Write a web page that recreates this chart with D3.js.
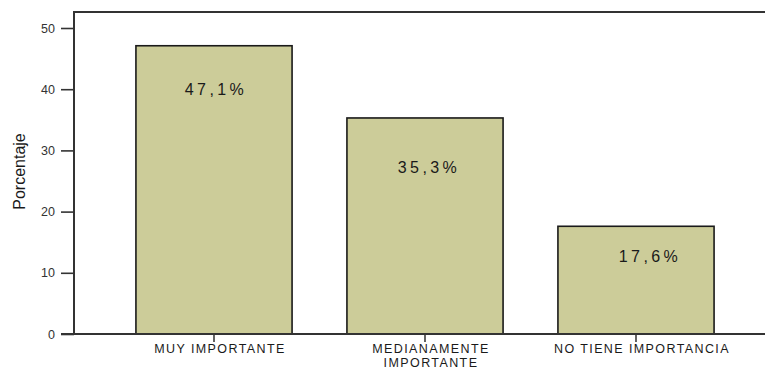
<!DOCTYPE html>
<html>
<head>
<meta charset="utf-8">
<script src="https://cdn.jsdelivr.net/npm/d3@7"></script>
<style>
  html, body { margin: 0; padding: 0; background: #fff; }
  svg { display: block; }
</style>
</head>
<body>
<svg id="chart" width="765" height="369"></svg>
<script>
// Importancia percibida: porcentaje de respuestas por categoría
const categories = ["MUY IMPORTANTE", "MEDIANAMENTE IMPORTANTE", "NO TIENE IMPORTANCIA"];
const categoryLines = [["MUY IMPORTANTE"], ["MEDIANAMENTE", "IMPORTANTE"], ["NO TIENE IMPORTANCIA"]];
const percentages = [47.1, 35.3, 17.6];
const yTicks = [0, 10, 20, 30, 40, 50];
const yTitle = "Porcentaje";

// layout of the value labels inside each bar (pixels below the bar top, horizontal nudge)
const labelDrop = [44, 49, 30];
const labelNudge = [0, 2, 12];

const svg = d3.select("#chart");
const W = 765;
const plotLeft = 74, plotTop = 12, plotBottom = 334;

const y = d3.scaleLinear().domain([0, 50]).range([plotBottom, 28]);
const x = d3.scaleBand()
  .domain(categories)
  .range([108.5, 741.5])
  .paddingInner(0.26)
  .paddingOuter(0.13);

const fmt = v => d3.format(".1f")(v).replace(".", ",") + "%";

// bars
svg.append("g").selectAll("rect")
  .data(percentages)
  .join("rect")
  .attr("x", (d, i) => x(categories[i]))
  .attr("y", d => y(d))
  .attr("width", x.bandwidth())
  .attr("height", d => plotBottom - y(d))
  .attr("fill", "#cccc99")
  .attr("stroke", "#1a1a1a")
  .attr("stroke-width", 1.6);

// value labels
svg.append("g").selectAll("text")
  .data(percentages)
  .join("text")
  .attr("x", (d, i) => x(categories[i]) + x.bandwidth() / 2 + labelNudge[i] + 2)
  .attr("y", (d, i) => y(d) + labelDrop[i])
  .attr("dy", "0.35em")
  .attr("text-anchor", "middle")
  .attr("font-family", "Liberation Sans, Arial, sans-serif")
  .attr("font-size", 16)
  .attr("letter-spacing", 3.4)
  .attr("fill", "#1a1a1a")
  .text(d => fmt(d));

// frame: top line and left axis
svg.append("line")
  .attr("x1", plotLeft).attr("x2", W)
  .attr("y1", plotTop).attr("y2", plotTop)
  .attr("stroke", "#333").attr("stroke-width", 2);

const yAxis = d3.axisLeft(y).tickValues(yTicks).tickSize(13).tickPadding(6);
const gy = svg.append("g").attr("transform", `translate(${plotLeft},0)`).call(yAxis);
gy.select(".domain").remove();
gy.selectAll(".tick line").attr("stroke", "#333").attr("stroke-width", 1.6);
gy.selectAll(".tick text")
  .attr("font-family", "Liberation Sans, Arial, sans-serif")
  .attr("font-size", 12.5)
  .attr("fill", "#333");
svg.append("line")
  .attr("x1", plotLeft).attr("x2", plotLeft)
  .attr("y1", plotTop - 1).attr("y2", plotBottom)
  .attr("stroke", "#333").attr("stroke-width", 2);

// baseline and category axis
const xAxis = d3.axisBottom(x).tickSize(8).tickFormat("");
const gx = svg.append("g").attr("transform", `translate(0,${plotBottom})`).call(xAxis);
gx.select(".domain").remove();
gx.selectAll(".tick line").attr("stroke", "#222").attr("stroke-width", 1.4);
svg.append("line")
  .attr("x1", 61).attr("x2", W)
  .attr("y1", plotBottom).attr("y2", plotBottom)
  .attr("stroke", "#333").attr("stroke-width", 2);

const catLabels = svg.append("g").selectAll("text")
  .data(categories)
  .join("text")
  .attr("x", d => x(d) + x.bandwidth() / 2 + 6)
  .attr("y", 349)
  .attr("text-anchor", "middle")
  .attr("font-family", "Liberation Sans, Arial, sans-serif")
  .attr("font-size", 12.5)
  .attr("letter-spacing", 1.4)
  .attr("fill", "#1a1a1a");
catLabels.each(function(d, i) {
  d3.select(this).selectAll("tspan")
    .data(categoryLines[i])
    .join("tspan")
    .attr("x", x(d) + x.bandwidth() / 2 + 6)
    .attr("dy", (t, j) => j === 0 ? "0.35em" : "1.1em")
    .text(t => t);
});

// y-axis title
svg.append("text")
  .attr("transform", `translate(25,${(133 + 210) / 2}) rotate(-90)`)
  .attr("text-anchor", "middle")
  .attr("font-family", "Liberation Sans Narrow, Arial Narrow, Liberation Sans, sans-serif")
  .attr("font-size", 16)
  .attr("fill", "#1a1a1a")
  .text(yTitle);
</script>
</body>
</html>
